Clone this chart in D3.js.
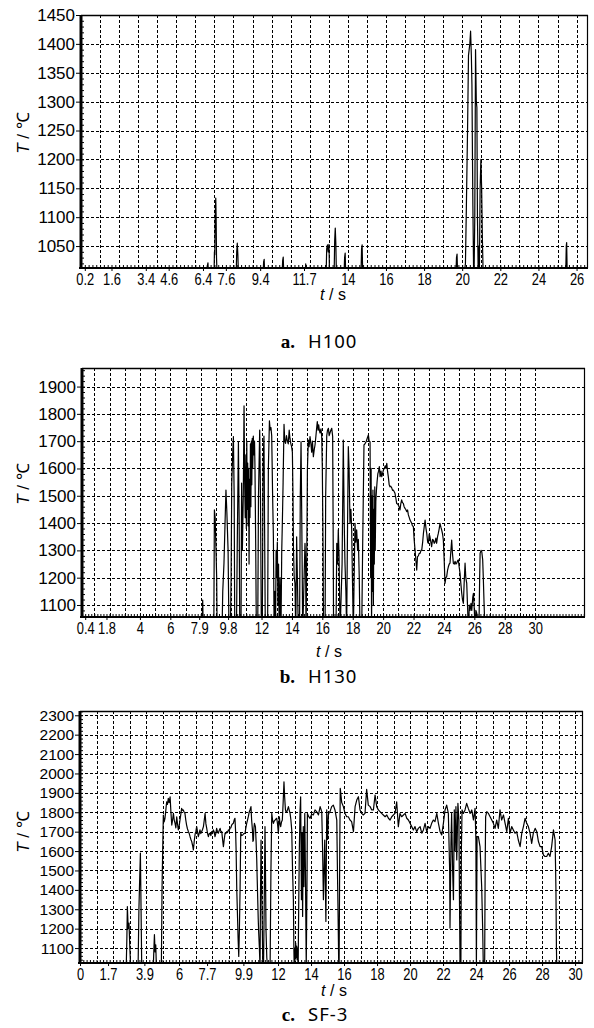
<!DOCTYPE html>
<html>
<head>
<meta charset="utf-8">
<script src="https://cdn.jsdelivr.net/npm/d3@7"></script>
<style>
  body { margin: 0; background: #fff; }
  svg { display: block; }
</style>
</head>
<body>
<div id="chart"></div>
<script>
  // tick labels
  var xTicksA = [0.2, 1.6, 3.4, 4.6, 6.4, 7.6, 9.4, 11.7, 14, 16, 18, 20, 22, 24, 26];
  var yTicksA = [1050, 1100, 1150, 1200, 1250, 1300, 1350, 1400, 1450];
  var xTicksB = [0.4, 1.8, 4, 6, 7.9, 9.8, 12, 14, 16, 18, 20, 22, 24, 26, 28, 30];
  var yTicksB = [1100, 1200, 1300, 1400, 1500, 1600, 1700, 1800, 1900];
  var xTicksC = [0, 1.7, 3.9, 6, 7.7, 9.9, 12, 14, 16, 18, 20, 22, 24, 26, 28, 30];
  var yTicksC = [1100, 1200, 1300, 1400, 1500, 1600, 1700, 1800, 1900, 2000, 2100, 2200, 2300];

  var letters = ["a.", "b.", "c."];
  var captions = ["H100", "H130", "SF-3"];

  // [t (s), T (°C)] ; 1000 = signal under the axis
  var seriesA = [
    [0,1000],[6.60,1000],[6.63,1015],[6.66,1021],[6.69,1000],
    [6.98,1000],[7.00,1040],[7.02,1035],[7.04,1100],[7.07,1133],[7.09,1098],[7.11,1030],[7.14,1000],
    [8.14,1000],[8.17,1040],[8.20,1055],[8.23,1035],[8.26,1000],
    [9.55,1000],[9.58,1022],[9.61,1027],[9.64,1000],
    [10.55,1000],[10.58,1025],[10.61,1031],[10.64,1000],
    [11.76,1000],[11.79,1019],[11.82,1000],
    [12.86,1000],[12.89,1045],[12.93,1052],[12.97,1040],[13.01,1053],[13.04,1000],
    [13.28,1000],[13.31,1060],[13.34,1081],[13.37,1055],[13.40,1000],
    [13.80,1000],[13.83,1030],[13.86,1038],[13.89,1000],
    [14.69,1000],[14.72,1045],[14.75,1052],[14.78,1000],
    [19.67,1000],[19.70,1030],[19.73,1036],[19.76,1000],
    [20.10,1000],[20.17,1020],[20.22,1120],[20.28,1250],[20.33,1380],[20.40,1400],[20.44,1422],
    [20.48,1380],[20.51,1330],[20.54,1200],[20.56,1120],[20.60,1000],[20.63,1020],[20.66,1100],
    [20.70,1390],[20.74,1300],[20.77,1290],[20.80,1100],[20.84,1000],[20.87,1050],[20.90,1000],
    [20.94,1150],[20.98,1200],[21.02,1150],[21.06,1060],[21.10,1000],
    [25.43,1000],[25.46,1050],[25.48,1056],[25.51,1000],
    [26.6,1000]
  ];

  var seriesB = [
    [0.19,1000],[8.08,1000],[8.13,1118],[8.17,1000],
    [8.86,1000],[8.90,1448],[8.95,1420],[9.00,1314],[9.05,1200],[9.08,1000],
    [9.40,1000],[9.45,1150],[9.53,1253],[9.60,1400],[9.66,1521],[9.72,1440],[9.80,1300],[9.86,1000],
    [9.95,1000],[10.00,1200],[10.04,1540],[10.10,1650],[10.15,1717],[10.20,1500],[10.24,1000],
    [10.35,1000],[10.40,1300],[10.48,1698],[10.53,1400],[10.57,1000],
    [10.65,1000],[10.69,1546],[10.74,1300],[10.80,1500],[10.85,1829],[10.89,1550],
    [10.93,1420],[10.97,1650],[11.00,1380],[11.03,1700],[11.06,1450],[11.09,1620],[11.12,1390],
    [11.15,1600],[11.18,1250],[11.21,1560],[11.24,1420],[11.27,1690],[11.30,1460],[11.33,1700],
    [11.36,1540],[11.39,1710],[11.42,1600],[11.46,1719],[11.50,1650],[11.54,1700],[11.57,1600],
    [11.62,1300],[11.66,1000],
    [11.75,1000],[11.80,1500],[11.88,1741],[11.93,1500],[11.99,1000],
    [12.05,1000],[12.10,1600],[12.16,1719],[12.20,1400],[12.25,1000],
    [12.40,1000],[12.45,1600],[12.52,1774],[12.57,1741],[12.62,1750],[12.67,1720],[12.73,1500],
    [12.78,1350],[12.83,1000],
    [12.88,1150],[12.92,1000],[12.96,1300],[13.00,1200],[13.04,1330],[13.08,1100],[13.12,1250],
    [13.16,1000],[13.22,1200],[13.28,1000],
    [13.33,1300],[13.37,1399],[13.42,1550],[13.48,1762],[13.53,1700],[13.58,1692],[13.64,1720],
    [13.70,1700],[13.76,1690],[13.82,1741],[13.87,1710],[13.93,1690],[13.98,1680],[14.03,1660],
    [14.07,1500],[14.10,1310],[14.15,1200],[14.20,1180],
    [14.25,1000],[14.31,1350],[14.36,1200],[14.42,1000],
    [14.50,1000],[14.55,1500],[14.60,1698],[14.65,1400],[14.71,1000],
    [14.80,1200],[14.86,1326],[14.90,1253],[14.93,1000],
    [14.98,1300],[15.02,1600],[15.08,1704],[15.13,1680],[15.19,1717],[15.25,1690],[15.30,1660],
    [15.35,1700],[15.41,1643],[15.47,1670],[15.52,1686],[15.58,1720],[15.63,1750],[15.67,1772],
    [15.72,1740],[15.76,1760],[15.80,1741],[15.85,1730],[15.91,1745],[15.96,1717],[16.00,1600],
    [16.05,1300],[16.08,1000],
    [16.18,1000],[16.22,1500],[16.29,1720],[16.34,1740],[16.40,1747],[16.45,1720],[16.50,1730],
    [16.56,1740],[16.62,1747],[16.68,1717],[16.71,1400],[16.74,1000],
    [16.90,1000],[16.95,1326],[17.00,1250],[17.05,1375],[17.10,1280],[17.17,1000],
    [17.30,1250],[17.38,1704],[17.44,1400],[17.49,1253],[17.55,1150],[17.60,1000],
    [17.66,1400],[17.71,1680],[17.76,1600],[17.82,1399],[17.88,1450],[17.93,1380],[17.98,1200],
    [18.04,1000],
    [18.12,1300],[18.15,1399],[18.20,1330],[18.26,1375],[18.32,1300],[18.37,1340],[18.43,1200],
    [18.48,1000],
    [18.59,1000],[18.65,1300],[18.74,1686],[18.80,1690],[18.88,1698],[18.95,1710],[19.03,1723],
    [19.08,1700],[19.14,1698],
    [19.18,1200],[19.21,1600],[19.24,1000],[19.27,1500],[19.30,1150],[19.33,1521],[19.36,1100],
    [19.39,1450],[19.42,1250],[19.45,1533],[19.48,1300],[19.52,1480],[19.56,1520],[19.60,1550],
    [19.65,1580],[19.70,1590],[19.75,1607],[19.80,1570],[19.86,1590],[19.91,1570],[19.96,1580],
    [20.02,1595],[20.08,1600],[20.14,1610],[20.19,1600],[20.24,1619],[20.29,1590],[20.34,1570],
    [20.40,1540],[20.45,1533],[20.50,1535],[20.56,1530],[20.62,1520],[20.67,1521],[20.73,1515],
    [20.78,1509],[20.84,1490],[20.89,1472],[20.95,1470],[21.00,1466],[21.05,1460],[21.11,1448],
    [21.16,1470],[21.22,1485],[21.27,1475],[21.33,1472],[21.38,1460],[21.44,1454],[21.49,1450],
    [21.55,1442],[21.61,1448],[21.66,1430],[21.72,1420],[21.77,1411],[21.83,1405],[21.88,1399],
    [21.93,1390],[21.99,1387],[22.04,1340],[22.10,1301],[22.16,1260],[22.21,1228],[22.26,1277],
    [22.32,1280],[22.37,1289],[22.43,1289],[22.49,1300],[22.54,1301],[22.60,1330],[22.65,1362],
    [22.71,1390],[22.76,1411],[22.82,1380],[22.87,1362],[22.93,1330],[22.98,1326],[23.03,1360],
    [23.08,1350],[23.14,1330],[23.19,1314],[23.25,1340],[23.30,1338],[23.36,1326],[23.41,1330],
    [23.47,1345],[23.52,1326],[23.58,1350],[23.63,1362],[23.69,1380],[23.74,1399],[23.80,1385],
    [23.85,1375],[23.91,1360],[23.96,1338],[24.02,1260],[24.07,1179],[24.13,1200],[24.18,1204],
    [24.24,1228],[24.29,1240],[24.35,1250],[24.40,1253],[24.46,1300],[24.51,1338],[24.56,1290],
    [24.62,1253],[24.68,1250],[24.73,1260],[24.79,1250],[24.84,1253],[24.90,1262],[24.95,1265],
    [25.00,1240],[25.06,1216],[25.11,1180],[25.17,1143],[25.22,1120],[25.28,1106],[25.33,1180],
    [25.39,1253],[25.44,1200],[25.50,1179],[25.55,1100],[25.61,1000],[25.67,1100],[25.72,1080],
    [25.78,1106],[25.83,1080],[25.90,1130],[25.94,1143],[26.00,1080],[26.05,1000],[26.10,1080],
    [26.16,1070],[26.22,1000],[26.30,1000],[26.35,1200],[26.38,1289],[26.44,1300],[26.49,1295],
    [26.55,1265],[26.59,1200],[26.64,1106],[26.70,1000],[33.3,1000]
  ];

  var seriesC = [
    [0,1000],[2.80,1000],[2.84,1150],[2.87,1314],[2.92,1200],[2.97,1229],[3.02,1100],[3.07,1000],
    [3.52,1000],[3.57,1300],[3.60,1400],[3.66,1589],[3.70,1300],[3.74,1000],
    [4.44,1000],[4.48,1100],[4.51,1169],[4.55,1080],[4.59,1117],[4.63,1000],
    [4.93,1000],[4.97,1400],[5.01,1600],[5.05,1786],[5.10,1750],[5.15,1769],[5.20,1810],[5.25,1854],
    [5.30,1840],[5.35,1872],[5.40,1850],[5.46,1880],[5.51,1800],[5.56,1734],[5.61,1760],[5.66,1794],
    [5.71,1760],[5.76,1743],[5.81,1720],[5.86,1777],[5.91,1740],[5.96,1709],[6.01,1730],[6.06,1760],
    [6.11,1790],[6.16,1820],[6.21,1810],[6.26,1812],[6.31,1800],[6.36,1794],[6.41,1760],[6.46,1734],
    [6.51,1715],[6.57,1700],[6.62,1690],[6.67,1674],[6.72,1660],[6.77,1649],[6.82,1630],[6.87,1606],
    [6.93,1657],[6.98,1690],[7.02,1700],[7.07,1726],[7.12,1700],[7.17,1674],[7.22,1690],[7.27,1709],
    [7.32,1690],[7.37,1700],[7.42,1710],[7.48,1726],[7.53,1760],[7.58,1794],[7.63,1740],[7.68,1717],
    [7.73,1690],[7.78,1674],[7.83,1690],[7.88,1692],[7.93,1680],[7.98,1700],[8.03,1690],[8.08,1709],
    [8.13,1700],[8.18,1674],[8.23,1690],[8.28,1717],[8.33,1700],[8.38,1692],[8.43,1705],[8.49,1717],
    [8.54,1700],[8.59,1700],[8.64,1660],[8.69,1623],[8.74,1660],[8.79,1692],[8.84,1690],[8.89,1700],
    [8.94,1695],[8.99,1709],[9.04,1705],[9.09,1717],[9.14,1720],[9.19,1734],[9.24,1740],[9.29,1743],
    [9.34,1760],[9.39,1769],[9.43,1700],[9.46,1606],[9.50,1400],[9.54,1280],[9.58,1150],[9.62,1057],
    [9.66,1200],[9.70,1400],[9.74,1692],[9.80,1680],[9.86,1683],[9.93,1690],[10.00,1692],[10.05,1720],
    [10.10,1743],[10.15,1760],[10.20,1777],[10.25,1800],[10.30,1812],[10.36,1829],[10.40,1760],
    [10.45,1709],[10.48,1650],[10.51,1657],[10.54,1720],[10.57,1743],[10.63,1726],[10.67,1650],
    [10.71,1554],[10.74,1450],[10.77,1349],[10.80,1250],[10.83,1177],[10.87,1100],[10.91,1000],
    [10.94,1400],[10.97,1657],[11.01,1400],[11.05,1177],[11.08,1000],[11.12,1000],[11.16,1300],
    [11.21,1726],[11.24,1500],[11.27,1194],[11.32,1050],[11.37,1000],[11.52,1000],[11.57,1500],
    [11.62,1794],[11.67,1760],[11.72,1743],[11.77,1755],[11.82,1760],[11.87,1765],[11.92,1769],
    [11.97,1740],[12.02,1692],[12.05,1740],[12.08,1777],[12.12,1740],[12.16,1726],[12.21,1750],
    [12.26,1760],[12.31,1850],[12.36,1957],[12.40,1880],[12.45,1812],[12.49,1800],[12.53,1803],
    [12.58,1815],[12.63,1829],[12.68,1810],[12.73,1794],[12.78,1760],[12.83,1709],[12.88,1500],
    [12.93,1349],[12.96,1100],[12.98,1000],
    [13.00,1100],[13.03,1040],[13.07,1126],[13.10,1050],[13.13,1110],[13.16,1040],[13.19,1100],[13.22,1000],
    [13.25,1300],[13.29,1600],[13.33,1800],[13.37,1880],[13.42,1349],[13.46,1692],[13.49,1263],
    [13.53,1726],[13.57,1417],[13.62,1794],[13.66,1500],[13.71,1000],[13.76,1500],[13.78,1794],
    [13.84,1780],[13.94,1769],[14.04,1790],[14.14,1786],[14.24,1812],[14.34,1803],[14.45,1786],
    [14.55,1829],[14.65,1803],
    [14.70,1606],[14.75,1349],[14.83,1657],[14.90,1237],[14.95,1812],[15.00,1660],[15.05,1786],
    [15.10,1800],[15.15,1803],[15.25,1829],[15.35,1837],[15.45,1812],[15.56,1760],[15.60,1500],
    [15.64,1263],[15.68,1000],[15.70,1000],[15.74,1600],[15.77,1923],[15.86,1850],[15.96,1829],
    [16.06,1794],[16.16,1777],[16.26,1777],[16.36,1760],[16.46,1752],[16.57,1700],[16.67,1829],
    [16.77,1863],[16.87,1880],[16.97,1812],[17.07,1794],[17.17,1786],[17.27,1794],[17.37,1918],
    [17.47,1837],[17.58,1829],[17.68,1812],[17.78,1812],[17.88,1889],[17.98,1829],[18.08,1812],
    [18.18,1803],[18.28,1794],[18.38,1786],[18.49,1777],[18.59,1786],[18.69,1769],[18.79,1760],
    [18.89,1777],[18.99,1786],[19.09,1794],[19.19,1854],[19.29,1726],[19.39,1794],[19.49,1777],
    [19.60,1786],[19.70,1794],[19.80,1769],[19.90,1760],[20.00,1743],[20.10,1726],[20.20,1709],
    [20.30,1726],[20.40,1700],[20.50,1717],[20.61,1726],[20.71,1692],[20.81,1709],[20.91,1743],
    [21.01,1700],[21.11,1726],[21.21,1717],[21.31,1743],[21.41,1760],[21.51,1752],[21.62,1794],
    [21.72,1743],[21.82,1700],[21.92,1683],[22.02,1743],[22.12,1812],[22.22,1837],[22.32,1794],
    [22.40,1500],[22.42,1203],[22.48,1640],[22.52,1794],[22.58,1500],[22.63,1349],[22.68,1812],
    [22.73,1600],[22.78,1829],[22.83,1554],[22.90,1846],[22.96,1760],[23.00,1300],[23.03,1000],
    [23.08,1000],[23.11,1600],[23.15,1812],[23.23,1794],[23.33,1812],[23.43,1846],[23.53,1820],
    [23.64,1794],[23.74,1812],[23.84,1760],[23.94,1820],[23.99,1657],[24.02,1000],[24.06,1674],
    [24.14,1674],[24.24,1623],[24.34,1417],[24.40,1200],[24.44,1000],[24.52,1000],[24.55,1500],
    [24.58,1777],[24.65,1803],[24.75,1794],[24.85,1777],[24.95,1760],[25.05,1743],[25.15,1717],
    [25.25,1760],[25.35,1717],[25.45,1812],[25.55,1760],[25.66,1786],[25.76,1743],[25.86,1700],
    [25.96,1769],[26.06,1692],[26.16,1726],[26.26,1709],[26.36,1692],[26.46,1700],[26.56,1657],
    [26.67,1623],[26.77,1692],[26.87,1726],[26.97,1769],[27.07,1743],[27.17,1726],[27.27,1692],
    [27.37,1640],[27.47,1692],[27.58,1717],[27.68,1700],[27.78,1649],[27.88,1623],[27.98,1623],
    [28.08,1580],[28.18,1572],[28.28,1572],[28.38,1589],[28.48,1572],[28.58,1623],[28.69,1709],
    [28.79,1657],[28.84,1400],[28.87,1100],[28.89,1000],[30.5,1000]
  ];

  var tickFont = "'Liberation Sans', Arial, sans-serif";

  var svg = d3.select("#chart")
    .append("svg")
    .attr("width", 594)
    .attr("height", 1028)
    .style("background", "#fff");

  // one panel per material
  var panels = [
    { id: "a", data: seriesA, xTicks: xTicksA, yTicks: yTicksA,
      xDomain: [0, 26.6], yDomain: [1012, 1450], gridX: d3.range(1, 27), minorY: 10,
      left: 81, right: 588, top: 15, bottom: 268, yFont: 17,
      xLab: [333, 300], yLab: [23, 133], capY: 348 },
    { id: "b", data: seriesB, xTicks: xTicksB, yTicks: yTicksB,
      xDomain: [0.19, 33.28], yDomain: [1056, 1968], gridX: d3.range(1, 31), minorY: 20,
      left: 82, right: 585, top: 368, bottom: 617, yFont: 17,
      xLab: [329, 657], yLab: [23, 484], capY: 683 },
    { id: "c", data: seriesC, xTicks: xTicksC, yTicks: yTicksC,
      xDomain: [0, 30.48], yDomain: [1023, 2322], gridX: d3.range(1, 31), minorY: 20,
      left: 80, right: 583, top: 711, bottom: 963, yFont: 15.5,
      xLab: [334, 996], yLab: [23, 832], capY: 1021 }
  ];

  panels.forEach(function (p, i) {
    var x = d3.scaleLinear().domain(p.xDomain).range([p.left, p.right]);
    var y = d3.scaleLinear().domain(p.yDomain).range([p.bottom, p.top]);
    var g = svg.append("g");

    svg.append("clipPath").attr("id", "clip-" + p.id)
      .append("rect")
      .attr("x", p.left).attr("y", p.top)
      .attr("width", p.right - p.left).attr("height", p.bottom - p.top);

    // dotted grid
    g.append("g").selectAll("line").data(p.yTicks).enter().append("line")
      .attr("x1", p.left).attr("x2", p.right)
      .attr("y1", function (d) { return Math.round(y(d)) + 0.5; })
      .attr("y2", function (d) { return Math.round(y(d)) + 0.5; })
      .attr("stroke", "#000").attr("stroke-dasharray", "3,2");
    g.append("g").selectAll("line").data(p.gridX).enter().append("line")
      .attr("x1", function (d) { return Math.round(x(d)) + 0.5; })
      .attr("x2", function (d) { return Math.round(x(d)) + 0.5; })
      .attr("y1", p.top).attr("y2", p.bottom)
      .attr("stroke", "#000").attr("stroke-dasharray", "3,2");

    // temperature trace
    g.append("path")
      .datum(p.data)
      .attr("clip-path", "url(#clip-" + p.id + ")")
      .attr("fill", "none")
      .attr("stroke", "#000")
      .attr("stroke-width", 1.2)
      .attr("stroke-linejoin", "round")
      .attr("d", d3.line()
        .x(function (d) { return x(d[0]); })
        .y(function (d) { return y(d[1]); }));

    // minor ticks inside the frame
    var minorX = d3.range(Math.ceil(p.xDomain[0] * 5) / 5, p.xDomain[1], 0.2);
    g.append("g")
      .attr("transform", "translate(0," + p.bottom + ")")
      .call(d3.axisBottom(x).tickValues(minorX).tickSize(-3).tickFormat(""))
      .call(function (s) { s.select(".domain").remove(); });
    var minorYv = d3.range(Math.ceil(p.yDomain[0] / p.minorY) * p.minorY, p.yDomain[1], p.minorY);
    g.append("g")
      .attr("transform", "translate(" + p.left + ",0)")
      .call(d3.axisLeft(y).tickValues(minorYv).tickSize(-3).tickFormat(""))
      .call(function (s) { s.select(".domain").remove(); });

    // main axes
    var xAxis = g.append("g")
      .attr("transform", "translate(0," + p.bottom + ")")
      .call(d3.axisBottom(x).tickValues(p.xTicks).tickSize(3).tickPadding(2)
        .tickFormat(function (d) { return String(d); }));
    xAxis.select(".domain").remove();
    xAxis.selectAll("text")
      .attr("font-size", 17).attr("font-family", tickFont).attr("fill", "#000")
      .attr("transform", "scale(0.76,1)");

    var yAxis = g.append("g")
      .attr("transform", "translate(" + p.left + ",0)")
      .call(d3.axisLeft(y).tickValues(p.yTicks).tickSize(5).tickPadding(1)
        .tickFormat(d3.format("d")));
    yAxis.select(".domain").remove();
    yAxis.selectAll("text").attr("font-size", p.yFont).attr("font-family", tickFont).attr("fill", "#000");

    // frame
    g.append("line").attr("x1", p.left).attr("x2", p.right).attr("y1", p.top + 0.5).attr("y2", p.top + 0.5)
      .attr("stroke", "#000").attr("stroke-width", 1.5);
    g.append("line").attr("x1", p.right - 0.5).attr("x2", p.right - 0.5).attr("y1", p.top).attr("y2", p.bottom)
      .attr("stroke", "#000").attr("stroke-width", 1.2);
    g.append("line").attr("x1", p.left - 2).attr("x2", p.right).attr("y1", p.bottom).attr("y2", p.bottom)
      .attr("stroke", "#000").attr("stroke-width", 2.2);
    g.append("line").attr("x1", p.left).attr("x2", p.left).attr("y1", p.top).attr("y2", p.bottom + 1)
      .attr("stroke", "#000").attr("stroke-width", 3);

    // axis titles
    var xt = svg.append("text")
      .attr("x", p.xLab[0]).attr("y", p.xLab[1])
      .attr("text-anchor", "middle")
      .attr("font-family", tickFont).attr("font-size", 16);
    xt.append("tspan").attr("font-style", "italic").text("t");
    xt.append("tspan").text(" / s");

    var yt = svg.append("text")
      .attr("transform", "translate(" + p.yLab[0] + "," + p.yLab[1] + ") rotate(-90)")
      .attr("text-anchor", "middle")
      .attr("dy", "0.35em")
      .attr("font-family", tickFont).attr("font-size", 17);
    yt.append("tspan").attr("font-style", "italic").text("T");
    yt.append("tspan").text(" / \u2103");

    // caption
    svg.append("text")
      .attr("x", 295).attr("y", p.capY)
      .attr("text-anchor", "end")
      .attr("font-family", "'Liberation Serif', 'DejaVu Serif', serif")
      .attr("font-weight", "bold").attr("font-size", 19)
      .text(letters[i]);
    svg.append("text")
      .attr("x", 308).attr("y", p.capY)
      .attr("font-family", "'Noto Sans', 'DejaVu Sans', sans-serif")
      .attr("font-size", 18.5).attr("letter-spacing", 1)
      .text(captions[i]);
  });
</script>
</body>
</html>
